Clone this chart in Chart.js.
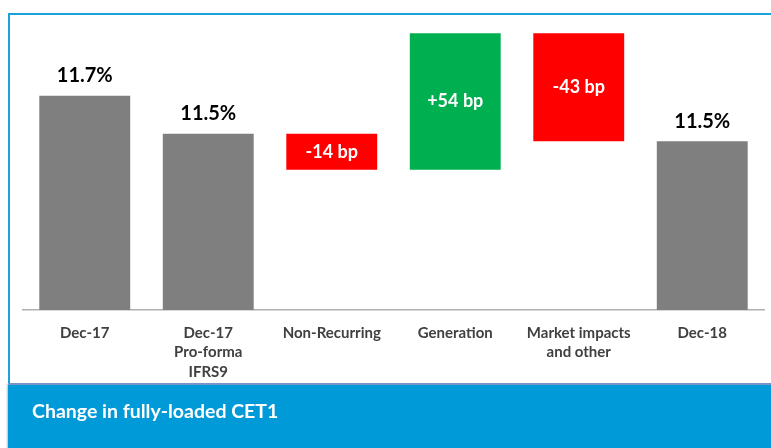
<!DOCTYPE html>
<html>
<head>
<meta charset="utf-8">
<script src="https://cdn.jsdelivr.net/npm/chart.js@4"></script>
<style>
  html, body { margin: 0; padding: 0; background: #fff; }
  body { width: 771px; height: 448px; position: relative; overflow: hidden; font-family: "Lato", sans-serif; }
  #wrap { position: absolute; left: 0; top: 0; width: 771px; height: 448px; }
  #frame { position: absolute; left: 8px; top: 13px; width: 800px; height: 380px; border-top: 2px solid #1ba1dc; border-left: 2px solid #1ba1dc; box-sizing: border-box; }
  #banner { position: absolute; left: 8px; top: 383px; width: 800px; height: 70px; background: #009ad8; border-top: 2px solid #7a92c8; border-bottom-left-radius: 5px; box-shadow: -1px 1px 2px rgba(0,0,0,0.25); box-sizing: border-box; }
  #banner span { position: absolute; left: 24px; top: 14px; color: #fff; font-weight: bold; font-size: 19.5px; }
</style>
</head>
<body>
<div id="frame"></div>
<div id="wrap"><canvas id="myChart" width="771" height="448"></canvas></div>
<div id="banner"><span>Change in fully-loaded CET1</span></div>
<script>
(() => {
  //! DATA

  // categories (multi-line tick labels)
  const categories = [
    ["Dec-17"],
    ["Dec-17", "Pro-forma", "IFRS9"],
    ["Non-Recurring"],
    ["Generation"],
    ["Market impacts", "and other"],
    ["Dec-18"]
  ];

  // floating bar ranges as drawn (chart is schematic, in % CET1)
  const barLow = [10.57, 10.57, 11.31, 11.31, 11.46, 10.57];
  const barHigh = [11.70, 11.50, 11.50, 12.03, 12.03, 11.46];

  // texts shown on / above the bars
  const barTexts = ["11.7%", "11.5%", "-14 bp", "+54 bp", "-43 bp", "11.5%"];

  // bar kind: total, down, up
  const barKinds = ["total", "total", "down", "up", "down", "total"];

  const kindColors = { total: "#7f7f7f", down: "#ff0000", up: "#00b050" };

  //! PLUGINS

  // value labels: above the totals, white inside the steps
  const barLabels = {
    id: "barLabels",
    afterDatasetsDraw(chart) {
      const { ctx } = chart;
      const meta = chart.getDatasetMeta(0);
      ctx.save();
      ctx.textAlign = "center";
      ctx.textBaseline = "middle";
      meta.data.forEach((bar, i) => {
        if (barKinds[i] === "total") {
          ctx.fillStyle = "#000";
          ctx.font = "bold 20px Lato";
          ctx.fillText(barTexts[i], bar.x, bar.y - 20);
        } else {
          ctx.fillStyle = "#fff";
          ctx.font = "bold 18px Lato";
          ctx.fillText(barTexts[i], bar.x, (bar.y + bar.base) / 2);
        }
      });
      ctx.restore();
    }
  };

  //! CHART

  const ctx = document.getElementById("myChart");

  new Chart(ctx, {
    type: "bar",
    data: {
      labels: categories,
      datasets: [
        {
          data: barLow.map((low, i) => [low, barHigh[i]]),
          backgroundColor: barKinds.map(k => kindColors[k]),
          borderWidth: 0,
          borderSkipped: false,
          categoryPercentage: 1,
          barPercentage: 0.736
        }
      ]
    },
    options: {
      responsive: false,
      animation: false,
      layout: { padding: { left: 23, right: 7, top: 20, bottom: 0 } },
      plugins: {
        legend: { display: false },
        tooltip: { enabled: false }
      },
      scales: {
        x: {
          grid: { display: false, drawTicks: false },
          border: { display: true, color: "#b0b0b0", width: 1.5 },
          ticks: {
            color: "#404040",
            font: { family: "Lato", weight: "bold", size: 15, lineHeight: 1.3 },
            padding: 13,
            maxRotation: 0,
            autoSkip: false
          },
          afterFit: scale => {
            scale.height = 138;
          }
        },
        y: {
          display: false,
          min: 10.57,
          max: 12.1
        }
      }
    },
    plugins: [barLabels]
  });
})();
</script>
</body>
</html>
